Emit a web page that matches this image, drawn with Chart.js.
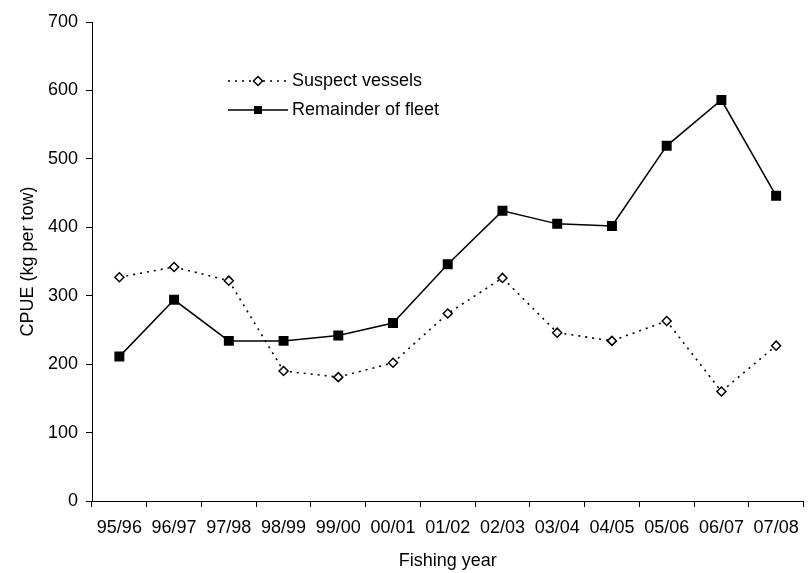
<!DOCTYPE html>
<html>
<head>
<meta charset="utf-8">
<script src="https://cdn.jsdelivr.net/npm/chart.js@4.4.1/dist/chart.umd.min.js"></script>
<style>
  body { margin: 0; background: #fff; }
</style>
</head>
<body>
<canvas id="cpueChart" width="811" height="573"></canvas>
<script>
const fishingYears = ['95/96', '96/97', '97/98', '98/99', '99/00', '00/01', '01/02',
                      '02/03', '03/04', '04/05', '05/06', '06/07', '07/08'];
const suspectVessels = [327, 342, 322, 190, 181, 202, 274, 326, 246, 234, 263, 160, 227];
const remainderOfFleet = [211, 294, 234, 234, 242, 260, 346, 424, 405, 402, 519, 586, 446];
const yMin = 0, yMax = 700, yStep = 100;

Chart.defaults.font.family = '"Liberation Sans", Arial, sans-serif';
Chart.defaults.font.size = 18;
Chart.defaults.color = '#000';

// legend sits inside the plot, like the original
const insideLegend = {
    id: 'insideLegend',
    afterDraw(chart) {
        const ctx = chart.ctx;
        const rows = [
            { label: 'Suspect vessels', y: 81, dash: [2, 5], marker: 'diamond' },
            { label: 'Remainder of fleet', y: 110, dash: [], marker: 'square' }
        ];
        ctx.save();
        rows.forEach(r => {
            ctx.strokeStyle = '#000';
            ctx.lineWidth = 1.5;
            ctx.setLineDash(r.dash);
            ctx.beginPath();
            ctx.moveTo(228, r.y);
            ctx.lineTo(288, r.y);
            ctx.stroke();
            ctx.setLineDash([]);
            if (r.marker === 'diamond') {
                ctx.fillStyle = '#fff';
                ctx.beginPath();
                ctx.moveTo(258, r.y - 4.5);
                ctx.lineTo(262.5, r.y);
                ctx.lineTo(258, r.y + 4.5);
                ctx.lineTo(253.5, r.y);
                ctx.closePath();
                ctx.fill();
                ctx.stroke();
            } else {
                ctx.fillStyle = '#000';
                ctx.fillRect(254, r.y - 4, 8, 8);
            }
            ctx.fillStyle = '#000';
            ctx.font = '18px "Liberation Sans", Arial, sans-serif';
            ctx.textBaseline = 'middle';
            ctx.fillText(r.label, 292, r.y);
        });
        ctx.restore();
    }
};

new Chart(document.getElementById('cpueChart').getContext('2d'), {
    type: 'line',
    data: {
        labels: fishingYears,
        datasets: [{
            label: 'Suspect vessels',
            data: suspectVessels,
            borderColor: '#000',
            borderWidth: 1.6,
            borderDash: [2, 5],
            tension: 0,
            pointStyle: 'rectRot',
            pointRadius: 4.5,
            pointBorderWidth: 1.5,
            pointBackgroundColor: '#fff',
            pointBorderColor: '#000'
        }, {
            label: 'Remainder of fleet',
            data: remainderOfFleet,
            borderColor: '#000',
            borderWidth: 1.5,
            tension: 0,
            pointStyle: 'rect',
            pointRadius: 6,
            pointBackgroundColor: '#000',
            pointBorderColor: '#000'
        }]
    },
    options: {
        responsive: false,
        animation: false,
        layout: { padding: { top: 22, right: 1, left: 0, bottom: 0 } },
        plugins: {
            legend: { display: false },
            tooltip: { enabled: false }
        },
        scales: {
            x: {
                offset: true,
                grid: { offset: true, drawOnChartArea: false, color: '#000', tickLength: 6 },
                border: { color: '#000', width: 1 },
                ticks: { padding: 10, maxRotation: 0, autoSkip: false },
                title: { display: true, text: 'Fishing year', padding: { top: 0, bottom: 1 } },
                afterFit(scale) { scale.height = 72; }
            },
            y: {
                min: yMin,
                max: yMax,
                ticks: { stepSize: yStep, padding: 8 },
                grid: { drawOnChartArea: false, color: '#000', tickLength: 6 },
                border: { color: '#000', width: 1 },
                title: { display: true, text: 'CPUE (kg per tow)', padding: { top: 17, bottom: 0 } },
                afterFit(scale) { scale.width = 92; }
            }
        }
    },
    plugins: [insideLegend]
});
</script>
</body>
</html>
